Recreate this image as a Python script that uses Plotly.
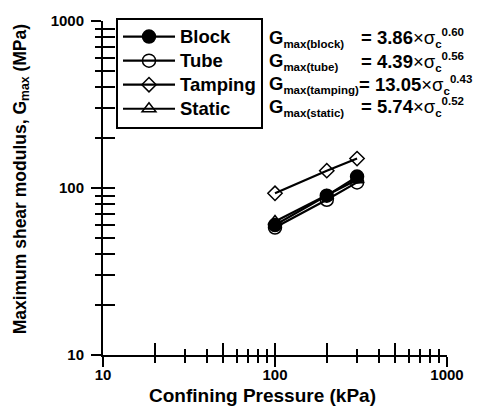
import plotly.graph_objects as go

pressure = [100, 200, 300]
block = [60, 90, 117]
tube = [58, 85, 108]
tamping = [93, 127, 150]
static = [63, 90, 112]

series = [
    ("Block", block, "circle", "black"),
    ("Tube", tube, "circle-open", "black"),
    ("Tamping", tamping, "diamond-open", "black"),
    ("Static", static, "triangle-up-open", "black"),
]

eq_names = ["max(block)", "max(tube)", "max(tamping)", "max(static)"]
eq_coef = ["3.86", "4.39", "13.05", "5.74"]
eq_exp = ["0.60", "0.56", "0.43", "0.52"]

x_title = "Confining Pressure (kPa)"
y_title = "Maximum shear modulus, G<sub>max</sub> (MPa)"

FONT = "Arial, Liberation Sans, sans-serif"

# plot area in pixels
L, R, T, B = 103, 447, 16.5, 355
W, H = 481, 412

def px_x(p):
    return (p - L) / (R - L)

def px_y(p):
    return (B - p) / (B - T)

fig = go.Figure()
sizes = {"circle": 13, "circle-open": 13, "diamond-open": 11, "triangle-up-open": 12}
for i, (name, vals, sym, col) in enumerate(series):
    on_overlay = (i == len(series) - 1)
    fig.add_trace(go.Scatter(
        x=pressure, y=vals, name="<span style='font-size:18.5px'>" + name + "</span>",
        mode="lines+markers",
        line=dict(color="black", width=2.2),
        marker=dict(symbol=sym, size=sizes[sym], color=col,
                    line=dict(color="black", width=1.5)),
        xaxis="x2" if on_overlay else "x",
        yaxis="y2" if on_overlay else "y",
    ))

tickfont = dict(family=FONT, size=15, color="black", weight="bold")

def main_axis(standoff):
    return dict(
        type="log", range=[1, 3], showgrid=False, zeroline=False, showline=True,
        linecolor="black", linewidth=2, mirror=False,
        ticks="outside", ticklen=10, tickwidth=2, tickcolor="black",
        dtick=1, tickfont=tickfont, ticklabelstandoff=standoff,
        minor=dict(ticks="outside", ticklen=6, tickwidth=2, tickcolor="black",
                   dtick="D1", showgrid=False),
    )

def overlay_axis(over, anchor, side):
    return dict(
        type="log", range=[1, 3], overlaying=over, anchor=anchor, side=side,
        showgrid=False, zeroline=False, showline=True, linecolor="black", linewidth=2,
        showticklabels=True, tickfont=dict(size=1, color="rgba(0,0,0,0)"),
        ticks="inside", ticklen=12, tickwidth=2, tickcolor="black",
        layer="above traces",
        minor=dict(ticks="inside", ticklen=6, tickwidth=2, tickcolor="black",
                   dtick="D1"),
    )

fig.update_layout(
    width=W, height=H,
    margin=dict(l=L, r=W - R, t=T, b=H - B, pad=0),
    paper_bgcolor="white", plot_bgcolor="white",
    font=dict(family=FONT, color="black"),
    showlegend=True,
    legend=dict(
        x=px_x(116), y=px_y(13), xanchor="left", yanchor="top",
        bordercolor="black", borderwidth=2, bgcolor="white",
        font=dict(family=FONT, size=16.2, color="black", weight="bold"),
        itemwidth=52, tracegroupgap=0,
    ),
    xaxis=main_axis(-5),
    yaxis=main_axis(4),
    xaxis2=overlay_axis("x", "y", "bottom"),
    yaxis2=overlay_axis("y", "x", "left"),
)

# axis titles as annotations (offset like the reference)
fig.add_annotation(xref="paper", yref="paper", x=px_x(262), y=px_y(396),
                   xanchor="center", yanchor="middle", showarrow=False,
                   text=x_title,
                   font=dict(family=FONT, size=19, color="black", weight="bold"))
fig.add_annotation(xref="paper", yref="paper", x=px_x(21), y=px_y(177),
                   xanchor="center", yanchor="middle", showarrow=False, textangle=-90,
                   text=y_title,
                   font=dict(family=FONT, size=17.5, color="black", weight="bold"))

row_px = [37, 61, 84, 107]
for i in range(4):
    yp = px_y(row_px[i] - 3)
    fig.add_annotation(xref="paper", yref="paper", x=px_x(267), y=yp,
                       xanchor="left", yanchor="middle", showarrow=False,
                       text="G<sub><span style='font-size:11.5px'>" + eq_names[i] + "</span></sub>",
                       font=dict(family=FONT, size=18.5, color="black", weight="bold"))
    fig.add_annotation(xref="paper", yref="paper", x=px_x(357 if i == 2 else 359), y=yp,
                       xanchor="left", yanchor="middle", showarrow=False,
                       text="= " + eq_coef[i] + "<span style='font-weight:normal'>×σ</span><sub><span style='font-size:11.5px'>c</span></sub><sup><span style='font-size:11.5px'>" + eq_exp[i] + "</span></sup>",
                       font=dict(family=FONT, size=18.5, color="black", weight="bold"))

fig.write_html("out.html")
